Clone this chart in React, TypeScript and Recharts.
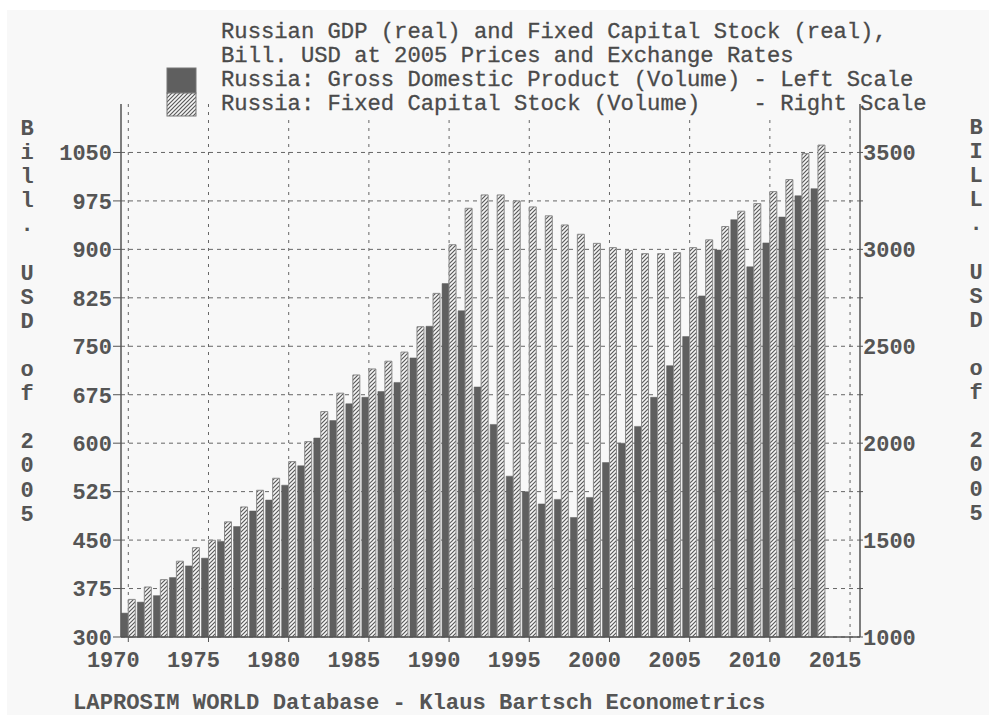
import React from "react";
import {
    BarChart,
    Bar,
    XAxis,
    YAxis,
    CartesianGrid,
} from "recharts";

// Russian GDP (left scale) and fixed capital stock (right scale), bill. USD at 2005 prices
const years = [
    1970, 1971, 1972, 1973, 1974, 1975, 1976, 1977, 1978, 1979,
    1980, 1981, 1982, 1983, 1984, 1985, 1986, 1987, 1988, 1989,
    1990, 1991, 1992, 1993, 1994, 1995, 1996, 1997, 1998, 1999,
    2000, 2001, 2002, 2003, 2004, 2005, 2006, 2007, 2008, 2009,
    2010, 2011, 2012, 2013,
];

const gdp = [
    337, 354, 364, 392, 410, 422, 448, 471, 495, 512,
    535, 565, 608, 635, 661, 671, 680, 694, 732, 781,
    847, 805, 687, 629, 549, 525, 506, 513, 485, 516,
    570, 600, 626, 671, 720, 765, 828, 899, 946, 873,
    910, 950, 983, 994,
];

const capitalStock = [
    1194, 1258, 1296, 1391, 1461, 1499, 1594, 1671, 1757, 1819,
    1905, 2008, 2163, 2258, 2352, 2383, 2423, 2470, 2601, 2773,
    3024, 3212, 3281, 3281, 3250, 3219, 3173, 3126, 3078, 3031,
    3009, 2994, 2978, 2978, 2983, 3009, 3049, 3118, 3197, 3236,
    3298, 3360, 3494, 3538,
];

const yearTicks = [1970, 1975, 1980, 1985, 1990, 1995, 2000, 2005, 2010, 2015];
const leftTicks = [300, 375, 450, 525, 600, 675, 750, 825, 900, 975, 1050];
const rightTicks = [1000, 1250, 1500, 1750, 2000, 2250, 2500, 2750, 3000, 3250, 3500];

const titleLines = [
    "Russian GDP (real) and Fixed Capital Stock (real),",
    "Bill. USD at 2005 Prices and Exchange Rates",
    "Russia: Gross Domestic Product (Volume) - Left Scale",
    "Russia: Fixed Capital Stock (Volume)    - Right Scale",
];
const leftLabel = "Bill. USD of 2005";
const rightLabel = "BILL. USD of 2005";
const footer = "LAPROSIM WORLD Database - Klaus Bartsch Econometrics";

const data = years.map((year, i) => ({
    year,
    gdp: gdp[i],
    fcs: capitalStock[i],
}));

const FONT = '"Liberation Mono", "DejaVu Sans Mono", monospace';
const INK = "#555";
const DARK = "#5f5f5f";
const PAPER = "#f8f8f8";

const YearTick = (props: any) => {
    const {x, y, payload} = props;
    return (
        <text x={x - 15} y={y + 25} textAnchor="middle" fontFamily={FONT} fontSize={22}
              fontWeight="bold" fill={INK}>
            {payload.value}
        </text>
    );
};

const VerticalWord = ({text, x, y}: { text: string, x: number, y: number }) => (
    <text fontFamily={FONT} fontSize={22} fontWeight="bold" fill={INK} textAnchor="middle">
        {text.split("").map((ch, i) => (
            <tspan key={i} x={x} y={y + 7 + i * 24.1}>{ch === " " ? "" : ch}</tspan>
        ))}
    </text>
);

const App = () => {
    return (
        <div style={{
            position: "fixed",
            left: 7,
            top: 10,
            width: 982,
            height: 705,
            background: PAPER,
            overflow: "hidden",
        }}>
            <BarChart
                width={982}
                height={705}
                data={data}
                margin={{top: 94, right: 0, left: 0, bottom: 0}}
                barGap={0}
                barCategoryGap={1}
            >
                <defs>
                    <pattern id="hatch" patternUnits="userSpaceOnUse" width={4} height={4}>
                        <rect width={4} height={4} fill="#f6f6f6"/>
                        <path d="M-1,1 L1,-1 M0,4 L4,0 M3,5 L5,3" stroke="#5a5a5a" strokeWidth={1.2}/>
                    </pattern>
                </defs>

                <CartesianGrid yAxisId="left" vertical={false} horizontalValues={leftTicks}
                               stroke="#666" strokeDasharray="4 4"/>
                <CartesianGrid yAxisId="left" horizontal={false} verticalValues={yearTicks}
                               stroke="#666" strokeDasharray="3 5"/>

                <XAxis
                    dataKey="year"
                    type="number"
                    domain={[1969.545, 2015.62]}
                    ticks={yearTicks}
                    interval={0}
                    height={78}
                    tickSize={5}
                    tickMargin={0}
                    axisLine={{stroke: INK, strokeWidth: 1.5}}
                    tickLine={{stroke: INK}}
                    tick={<YearTick/>}
                />
                <YAxis
                    yAxisId="left"
                    width={114}
                    domain={[300, 1125]}
                    ticks={leftTicks}
                    interval={0}
                    tickSize={8}
                    tickMargin={1}
                    axisLine={{stroke: INK, strokeWidth: 1.5}}
                    tickLine={{stroke: INK}}
                    tick={{fontFamily: FONT, fontSize: 22, fontWeight: "bold", fill: INK}}
                />
                <YAxis
                    yAxisId="right"
                    orientation="right"
                    width={129}
                    domain={[1000, 3750]}
                    ticks={rightTicks}
                    interval={0}
                    tickSize={3}
                    tickMargin={0}
                    tickFormatter={(v: number) => (v % 500 === 0 ? String(v) : "")}
                    axisLine={{stroke: INK, strokeWidth: 1.5}}
                    tickLine={{stroke: INK}}
                    tick={{fontFamily: FONT, fontSize: 22, fontWeight: "bold", fill: INK}}
                />

                <Bar yAxisId="left" dataKey="gdp" fill={DARK} stroke={DARK} strokeWidth={0.5}
                     isAnimationActive={false}/>
                <Bar yAxisId="right" dataKey="fcs" fill="url(#hatch)" stroke="#8a8a8a" strokeWidth={1}
                     isAnimationActive={false}/>

                {/* the title is printed in opaque text cells, hiding the grid tops */}
                <rect x={212} y={8} width={710} height={99} fill={PAPER}/>
                {titleLines.map((line, i) => (
                    <text key={i} x={214} y={27.5 + i * 24.2} fontFamily={FONT} fontSize={22.2}
                          fill="#4a4a4a" stroke="#4a4a4a" strokeWidth={0.3} style={{whiteSpace: "pre"}}>
                        {line}
                    </text>
                ))}
                <rect x={160} y={58} width={29} height={25} fill={DARK} stroke="#777"/>
                <rect x={160} y={83} width={29} height={23} fill="url(#hatch)" stroke="#777"/>

                <VerticalWord text={leftLabel} x={20} y={118}/>
                <VerticalWord text={rightLabel} x={969} y={117}/>

                <text x={66} y={699} fontFamily={FONT} fontSize={22.2} fontWeight="bold" fill={INK}
                      style={{whiteSpace: "pre"}}>
                    {footer}
                </text>
            </BarChart>
        </div>
    );
};

export default App;
